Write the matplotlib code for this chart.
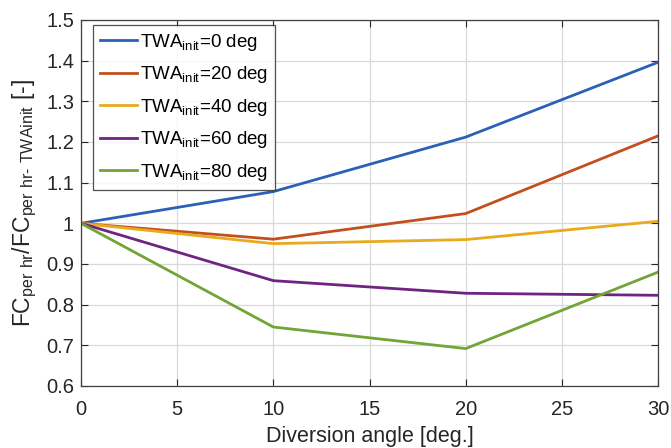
import matplotlib
matplotlib.use("Agg")
import matplotlib.pyplot as plt

# ----------------------------
# DATA
# ----------------------------
angle = [0, 10, 20, 30]
twa_labels = ["0", "20", "40", "60", "80"]
fc_twa0 = [1.0, 1.078, 1.212, 1.396]
fc_twa20 = [1.0, 0.961, 1.024, 1.215]
fc_twa40 = [1.0, 0.950, 0.960, 1.005]
fc_twa60 = [1.0, 0.859, 0.828, 0.823]
fc_twa80 = [1.0, 0.745, 0.692, 0.880]

colors = ["#2A60B6", "#C2501E", "#E9AA1E", "#6F2482", "#72A436"]

plt.rcParams["font.family"] = ["Liberation Sans", "DejaVu Sans"]
plt.rcParams["mathtext.default"] = "regular"
plt.rcParams["mathtext.fontset"] = "custom"
plt.rcParams["mathtext.rm"] = "Liberation Sans"

fig = plt.figure(figsize=(6.71, 4.48), dpi=100)
ax = fig.add_axes([0.1207, 0.1384, 0.860, 0.817])

series = [fc_twa0, fc_twa20, fc_twa40, fc_twa60, fc_twa80]
for vals, lab, col in zip(series, twa_labels, colors):
    ax.plot(angle, vals, color=col, lw=2,
            label=r"TWA$_{init}$=" + lab + " deg")

ax.set_xlim(0, 30)
ax.set_ylim(0.6, 1.5)
ax.set_xticks(range(0, 31, 5))
ax.set_yticks([0.6, 0.7, 0.8, 0.9, 1.0, 1.1, 1.2, 1.3, 1.4, 1.5])
ax.set_yticklabels(["0.6", "0.7", "0.8", "0.9", "1", "1.1", "1.2", "1.3", "1.4", "1.5"])
ax.grid(True, color="#d9d9d9", lw=0.9)
ax.tick_params(direction="in", labelsize=14.5, length=5, top=True, right=True,
               labeltop=False, labelright=False, colors="#262626")
ax.tick_params(axis="x", pad=10)
ax.tick_params(axis="y", pad=5)
for sp in ax.spines.values():
    sp.set_color("#404040")
    sp.set_linewidth(0.9)

ax.set_xlabel("Diversion angle [deg.]", fontsize=15.5, color="#262626", labelpad=5)
ax.set_ylabel(r"FC$_{per\ hr}$/FC$_{per\ hr\text{-}\ TWAinit}$ [-]", fontsize=16.5,
              color="#262626", labelpad=5)

# legend sits a little in from the corner, like the MATLAB one
leg = ax.legend(loc="upper left", bbox_to_anchor=(12 / 577, 1 - 5 / 366),
                borderaxespad=0, fontsize=13.5, frameon=True, fancybox=False,
                edgecolor="#262626", handlelength=2.0, handletextpad=0.15,
                labelspacing=0.62, borderpad=0.35)
leg.get_frame().set_linewidth(0.9)

fig.savefig("out.png", dpi=100)
